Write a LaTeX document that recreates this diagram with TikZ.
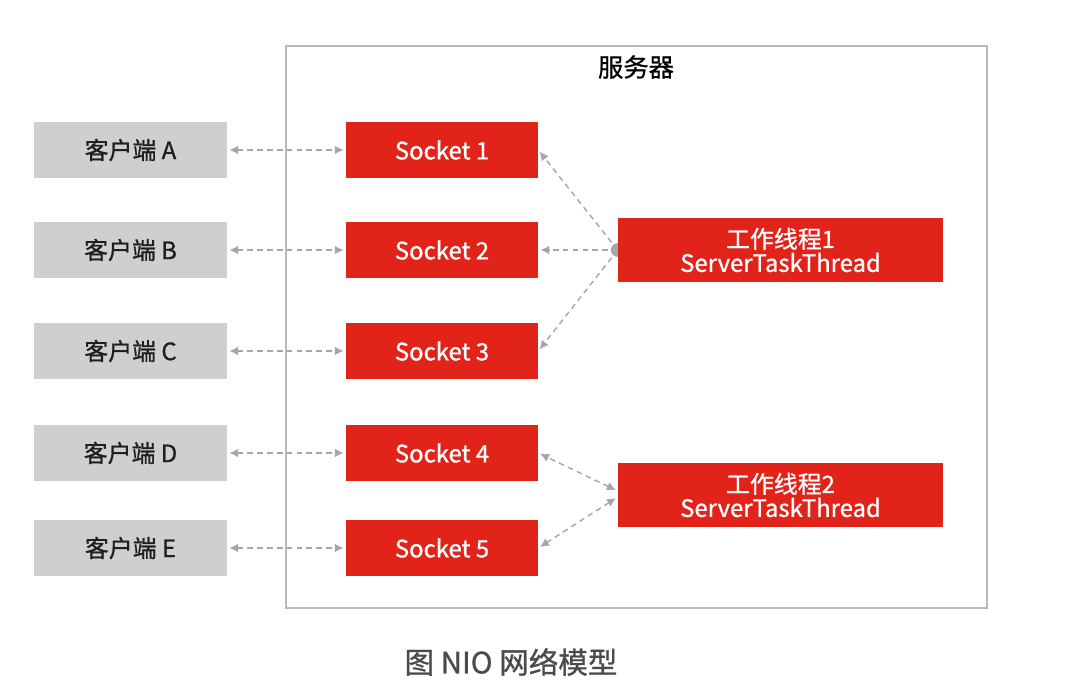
\documentclass[tikz,border=0pt]{standalone}
\usepackage{fontspec}
\setmainfont{Noto Sans CJK SC}[BoldFont=Noto Sans CJK SC,BoldFeatures={FakeBold=0.9}]
\usetikzlibrary{arrows.meta,backgrounds}
\definecolor{nred}{HTML}{E2231A}
\definecolor{ngray}{HTML}{CFCFCF}
\definecolor{nline}{HTML}{A6A6A6}
\definecolor{nframe}{HTML}{B8B8B8}
\definecolor{ncap}{HTML}{4A4A4A}

\begin{document}
\begin{tikzpicture}[x=0.025cm,y=-0.025cm,
  client/.style={fill=ngray,text=black!88,minimum width=4.825cm,minimum height=1.375cm,
    inner sep=0pt,font=\fontsize{17}{20}\selectfont\bfseries},
  sock/.style={fill=nred,text=white,minimum width=4.8cm,minimum height=1.375cm,
    inner sep=0pt,font=\fontsize{17}{20}\selectfont\bfseries},
  worker/.style={fill=nred,text=white,minimum width=8.125cm,minimum height=1.6cm,
    inner sep=0pt,align=center,font=\fontsize{17}{17}\selectfont\bfseries},
  link/.style={draw=nline,line width=1pt,dash pattern=on 4pt off 3pt,
    shorten >=1.5pt,shorten <=1.5pt},
  both/.style={{Latex[length=2.2mm,width=2.2mm]}-{Latex[length=2.2mm,width=2.2mm]}},
  one/.style={-{Latex[length=2.2mm,width=2.2mm]}}]

\useasboundingbox (0,0) rectangle (1065,697);

% server frame
\draw[nframe,line width=1pt] (286,46) rectangle (987,608);
\node (srv) at (636,67) {\fontsize{18}{20}\selectfont\bfseries 服务器};

% clients
\node[client] (ca) at (130.5,150) {客户端 A};
\node[client] (cb) at (130.5,250) {客户端 B};
\node[client] (cc) at (130.5,351) {客户端 C};
\node[client] (cd) at (130.5,453) {客户端 D};
\node[client] (ce) at (130.5,548) {客户端 E};

% sockets
\node[sock] (s1) at (442,150) {Socket 1};
\node[sock] (s2) at (442,250) {Socket 2};
\node[sock] (s3) at (442,351) {Socket 3};
\node[sock] (s4) at (442,453) {Socket 4};
\node[sock] (s5) at (442,548) {Socket 5};

% worker threads
\node[worker] (t1) at (780.5,250) {工作线程1\\ServerTaskThread};
\node[worker] (t2) at (780.5,495) {工作线程2\\ServerTaskThread};

\begin{scope}[on background layer]
\draw [link,both] (ca.east) -- (s1.west);
\draw [link,both] (cb.east) -- (s2.west);
\draw [link,both] (cc.east) -- (s3.west);
\draw [link,both] (cd.east) -- (s4.west);
\draw [link,both] (ce.east) -- (s5.west);
\draw [link,both] ([yshift=0.1cm]t2.west) -- (s4.east);
\draw [link,both] ([yshift=-0.05cm]t2.west) -- (s5.east);
\draw [link,one,shorten <=0pt] (t1.west) -- (s1.east);
\draw [link,one,shorten <=0pt] (t1.west) -- (s2.east);
\draw [link,one,shorten <=0pt] (t1.west) -- (s3.east);
\fill[nline] (t1.west) circle (0.17cm);
\end{scope}

% caption
\node[text=ncap] (cap) at (511,662) {\fontsize{21}{23}\selectfont\bfseries 图 NIO 网络模型};

\end{tikzpicture}
\end{document}
